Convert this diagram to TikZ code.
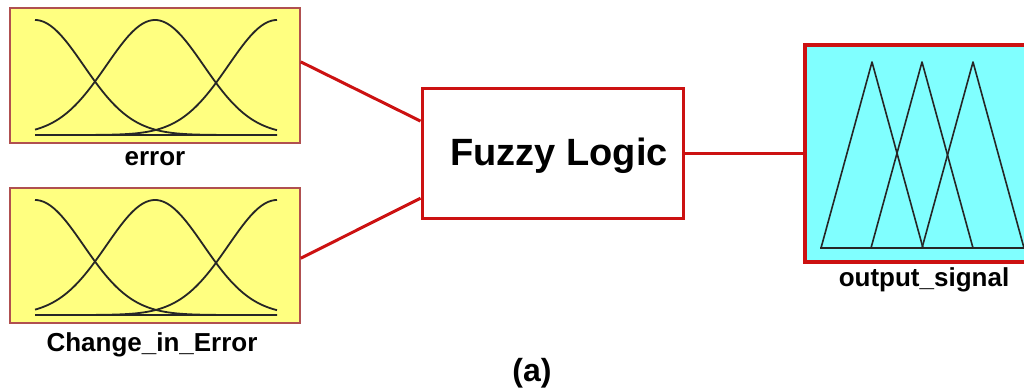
\documentclass[tikz,border=0pt]{standalone}
\usepackage{fontspec}
\setmainfont{Liberation Sans}
\usetikzlibrary{calc}
\definecolor{mfyellow}{RGB}{255,255,128}
\definecolor{mfcyan}{RGB}{128,255,255}
\definecolor{mfred}{RGB}{204,17,17}
\definecolor{mfbrown}{RGB}{176,80,80}
\tikzset{
  inbox/.style={draw=mfbrown, line width=1.5pt, fill=mfyellow, minimum width=290pt, minimum height=135pt, inner sep=0pt},
  outbox/.style={draw=mfred, line width=3.5pt, fill=mfcyan, minimum width=235pt, minimum height=217pt, inner sep=0pt},
  rulebox/.style={draw=mfred, line width=3pt, fill=white, minimum width=261pt, minimum height=130pt, inner sep=0pt},
  wire/.style={draw=mfred, line width=3pt},
  mf/.style={draw=black!85, line width=1.8pt},
  lbl/.style={font=\bfseries\fontsize{26}{28}\selectfont, anchor=base, inner sep=0pt},
  gausset/.pic={
    \foreach \c in {35,155,277}
      \draw[mf] plot[domain=35:277, samples=90, smooth] (\x, {-115*exp(-0.5*((\x-\c)/48.5)^2)});
    \draw[mf] (35,0) -- (277,0);
  }
}
\begin{document}
\begin{tikzpicture}[x=1pt, y=-1pt]
\useasboundingbox (0,0) rectangle (1024,389);

% input variables
\node[inbox] (err) at (155,75.5) {};
\node[inbox] (chg) at (155,255.5) {};
\pic at (0,135) {gausset};
\pic at (0,315) {gausset};
\node[lbl] (errlbl) at (155,165) {error};
\node[lbl] (chglbl) at (152,351) {Change\_in\_Error};

% rule block
\node[rulebox] (fz) at (552.5,153) {};
\node[font=\bfseries\fontsize{38}{42}\selectfont, anchor=base, inner sep=0pt] (fztxt) at (559,165) {Fuzzy Logic};

% output variable
\begin{scope}
\clip (0,0) rectangle (1024,389);
\node[outbox] (out) at (922.5,153.5) {};
\end{scope}
\foreach \p in {872,922,973}
  \draw[mf, line width=1.6pt, line join=round] (\p-51,248) -- (\p,62) -- (\p+51,248);
\draw[mf, line width=1.6pt] (820,248) -- (1024,248);
\node[lbl] (outlbl) at (924,286) {output\_signal};

% connectors
\coordinate (e1) at ($(err.north east)!0.4!(err.south east)$);
\coordinate (c1) at ($(chg.north east)!0.52!(chg.south east)$);
\coordinate (f1) at ($(fz.north west)!0.26!(fz.south west)$);
\coordinate (f2) at ($(fz.north west)!0.84!(fz.south west)$);
\draw[wire] (e1) -- (f1);
\draw[wire] (c1) -- (f2);
\draw[wire] (fz.east) -- (fz.east -| out.west);

% caption
\node[lbl, font=\bfseries\fontsize{32}{34}\selectfont] (cap) at (532,381) {(a)};
\end{tikzpicture}
\end{document}
